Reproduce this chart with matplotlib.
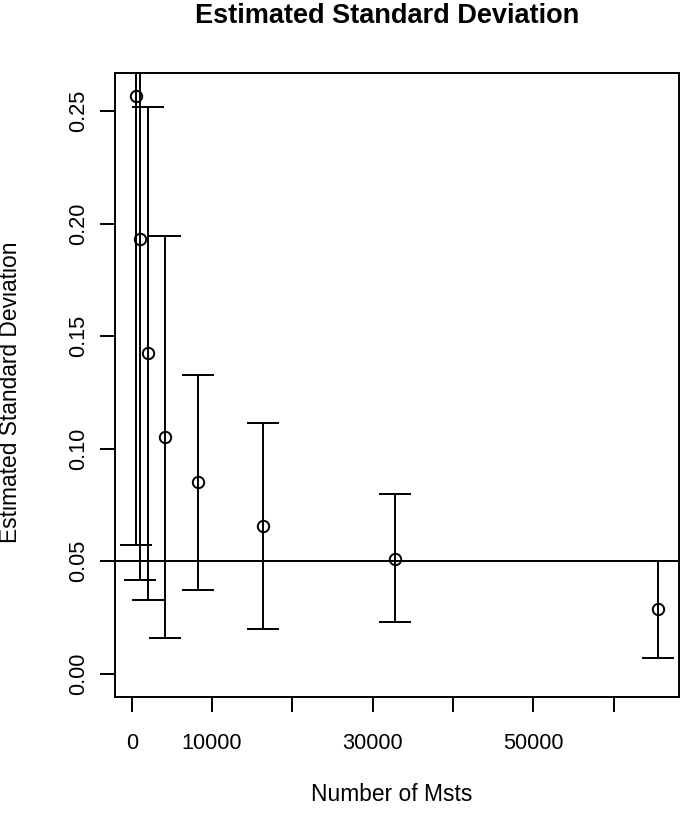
import matplotlib
matplotlib.use("Agg")
import matplotlib.pyplot as plt

# number of msts and estimated sd, with interval ends
msts = [512, 1024, 2048, 4096, 8192, 16384, 32768, 65536]
sd_est = [0.2567, 0.1932, 0.1424, 0.1051, 0.0851, 0.0657, 0.0512, 0.0289]
sd_lower = [0.0573, 0.0416, 0.0330, 0.0157, 0.0374, 0.0201, 0.0228, 0.0071]
sd_upper = [0.456, 0.345, 0.2516, 0.1946, 0.1326, 0.1115, 0.0799, 0.0500]
true_sd = 0.05

x_ticks = [0, 10000, 20000, 30000, 40000, 50000, 60000]
x_labels = ["0", "10000", "", "30000", "", "50000", ""]
y_ticks = [0.00, 0.05, 0.10, 0.15, 0.20, 0.25]
y_labels = ["0.00", "0.05", "0.10", "0.15", "0.20", "0.25"]

plt.rcParams["font.family"] = ["Liberation Sans", "DejaVu Sans"]
W, H = 682, 813
fig = plt.figure(figsize=(W / 100, H / 100), dpi=100)
ax = fig.add_axes([115 / W, 1 - 697 / H, 564 / W, 624 / H])

lw = 1.4
err_lo = [m - lo for m, lo in zip(sd_est, sd_lower)]
err_hi = [hi - m for m, hi in zip(sd_est, sd_upper)]
ax.errorbar(msts, sd_est, yerr=[err_lo, err_hi], fmt="o", color="black",
            mfc="none", mec="black", ms=8.2, mew=lw, elinewidth=lw,
            capsize=11.2, capthick=lw)
ax.axhline(true_sd, color="black", lw=lw)

ax.set_xlim(-2089, 68137)
ax.set_ylim(-0.0103, 0.2669)
ax.set_xticks(x_ticks)
ax.set_xticklabels(x_labels)
ax.set_yticks(y_ticks)
ax.set_yticklabels(y_labels, rotation=90, va="center")

for s in ax.spines.values():
    s.set_linewidth(lw)
ax.tick_params(axis="both", length=10.8, width=lw, labelsize=15.7)
ax.tick_params(axis="x", pad=15.0)
ax.tick_params(axis="y", pad=8.0)

fig.text(387 / W, 1 - 23 / H, "Estimated Standard Deviation",
         ha="center", va="baseline", fontsize=19.5, fontweight="bold")
fig.text(392 / W, 1 - 801 / H, "Number of Msts",
         ha="center", va="baseline", fontsize=16.4)
fig.text(17 / W, 1 - 392 / H, "Estimated Standard Deviation",
         ha="center", va="baseline", rotation=90, rotation_mode="anchor",
         fontsize=16.4)

fig.savefig("out.png", dpi=100)
